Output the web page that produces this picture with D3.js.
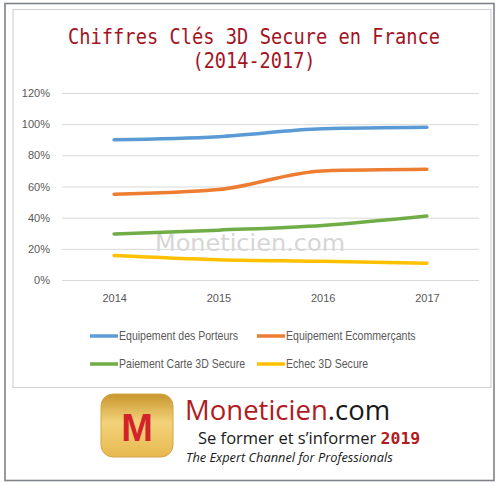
<!DOCTYPE html>
<html><head><meta charset="utf-8">
<script src="https://cdn.jsdelivr.net/npm/d3@7/dist/d3.min.js"></script>
<style>body{margin:0;background:#fff}</style>
</head><body>
<script>
const years = ["2014","2015","2016","2017"];
const seriesNames = ["Equipement des Porteurs","Equipement Ecommerçants","Paiement Carte 3D Secure","Echec 3D Secure"];
const porteurs = [0.90,0.92,0.97,0.98];
const ecommercants = [0.55,0.58,0.70,0.71];
const paiement = [0.295,0.32,0.35,0.41];
const echec = [0.157,0.13,0.12,0.107];
const yTicks = [0,0.2,0.4,0.6,0.8,1.0,1.2];
const colors = ["#5b9bd5","#ed7d31","#70ad47","#ffc000"];
const allSeries = [porteurs, ecommercants, paiement, echec];

const svg = d3.select("body").append("svg").attr("width",500).attr("height",486);
// outer frame
svg.append("rect").attr("x",5).attr("y",3.5).attr("width",489).attr("height",477)
  .attr("fill","#fff").attr("stroke","#7f8287").attr("stroke-width",1.6);
// inner panel
svg.append("rect").attr("x",13).attr("y",9.5).attr("width",478).attr("height",378)
  .attr("fill","#fff").attr("stroke","#d4d4d4").attr("stroke-width",1.2);

// title
const tf = "'DejaVu Sans Mono', monospace";
svg.append("text").attr("x",254).attr("y",44).attr("text-anchor","middle")
  .attr("font-family",tf).attr("font-size",21).attr("fill","#a3141f")
  .attr("textLength",372).attr("lengthAdjust","spacingAndGlyphs")
  .text("Chiffres Clés 3D Secure en France");
svg.append("text").attr("x",254).attr("y",68).attr("text-anchor","middle")
  .attr("font-family",tf).attr("font-size",21).attr("fill","#a3141f")
  .attr("textLength",123).attr("lengthAdjust","spacingAndGlyphs")
  .text("(2014-2017)");

const x = d3.scalePoint().domain(years).range([62,479]).padding(0.5);
const y = d3.scaleLinear().domain([0,1.2]).range([280,93]);

// gridlines
const yAxis = d3.axisLeft(y).tickValues(yTicks).tickFormat(d3.format(".0%")).tickSize(-417).tickPadding(12);
const gy = svg.append("g").attr("transform","translate(62,0)").call(yAxis);
gy.select(".domain").remove();
gy.selectAll(".tick line").attr("stroke","#d9d9d9").attr("stroke-width",1);
gy.selectAll(".tick text").attr("font-family","'Liberation Sans', Arial, sans-serif").attr("font-size",11).attr("fill","#595959");

const xAxis = d3.axisBottom(x).tickSize(0).tickPadding(14);
const gx = svg.append("g").attr("transform","translate(0,280)").call(xAxis);
gx.select(".domain").remove();
gx.selectAll(".tick text").attr("font-family","'Liberation Sans', Arial, sans-serif").attr("font-size",11).attr("fill","#595959");

// watermark
svg.append("text").attr("x",250).attr("y",251).attr("text-anchor","middle")
  .attr("font-family","'DejaVu Sans', Verdana, sans-serif").attr("font-size",23).attr("fill","#d6d6d6")
  .attr("textLength",190).attr("lengthAdjust","spacingAndGlyphs")
  .text("Moneticien.com");

const line = d3.line().x((d,i)=>x(years[i])).y(d=>y(d)).curve(d3.curveMonotoneX);
allSeries.forEach((s,k)=>{
  svg.append("path").attr("d",line(s)).attr("fill","none")
    .attr("stroke",colors[k]).attr("stroke-width",3.5).attr("stroke-linecap","round");
});

// legend
const legPos = [[90,336],[257,336],[90,364],[257,364]];
seriesNames.forEach((n,k)=>{
  const [lx,ly] = legPos[k];
  svg.append("line").attr("x1",lx).attr("x2",lx+28).attr("y1",ly).attr("y2",ly)
    .attr("stroke",colors[k]).attr("stroke-width",3.5);
  svg.append("text").attr("transform",`translate(${lx+29},${ly+4}) scale(0.88,1)`)
    .attr("font-family","'Liberation Sans', Arial, sans-serif")
    .attr("font-size",12).attr("fill","#595959").text(n);
});

// logo
const defs = svg.append("defs");
const gr = defs.append("linearGradient").attr("id","gold").attr("x1",0).attr("y1",0).attr("x2",0).attr("y2",1);
gr.append("stop").attr("offset","0%").attr("stop-color","#c8962e");
gr.append("stop").attr("offset","45%").attr("stop-color","#f3d27a");
gr.append("stop").attr("offset","100%").attr("stop-color","#e7b94f");
svg.append("rect").attr("x",101).attr("y",394).attr("width",72).attr("height",63).attr("rx",12)
  .attr("fill","url(#gold)").attr("stroke","#d4a647").attr("stroke-width",1);
svg.append("text").attr("x",137).attr("y",441).attr("text-anchor","middle")
  .attr("font-family","'Liberation Sans', Arial, sans-serif").attr("font-weight","bold").attr("font-size",38)
  .attr("fill","#d3232a").text("M");

const t1 = svg.append("text").attr("x",185).attr("y",420).attr("font-family","'Open Sans', 'Liberation Sans', sans-serif").attr("font-size",27.5);
t1.append("tspan").attr("fill","#b01c22").text("Moneticien");
t1.append("tspan").attr("fill","#1a1a1a").text(".com");
const t2 = svg.append("text").attr("x",198).attr("y",444).attr("font-family","'Open Sans', 'Liberation Sans', sans-serif").attr("font-size",16.5).attr("fill","#1a1a1a");
t2.append("tspan").text("Se former et s’informer ");
t2.append("tspan").attr("font-family","'DejaVu Sans Mono', monospace").attr("font-weight","bold").attr("fill","#b01c22").text("2019");
svg.append("text").attr("x",186).attr("y",462).attr("font-family","'Open Sans', 'Liberation Sans', sans-serif")
  .attr("font-style","italic").attr("font-size",12.8).attr("fill","#1a1a1a").text("The Expert Channel for Professionals");
</script>
</body></html>
